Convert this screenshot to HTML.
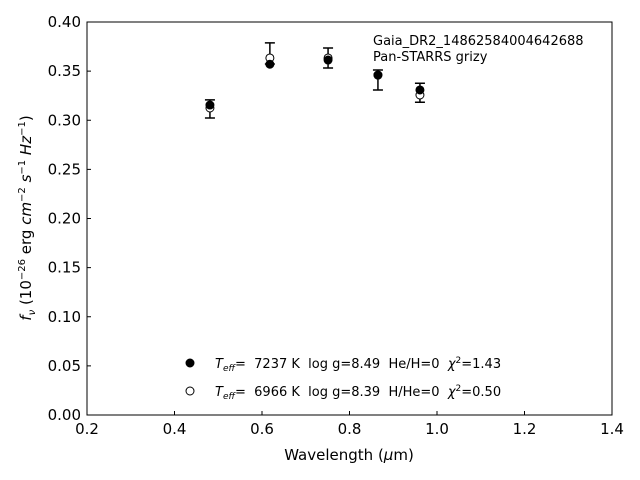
<!DOCTYPE html>
<html><head><meta charset="utf-8"><style>body{margin:0;background:#fff}svg{display:block;font-family:"DejaVu Sans","Liberation Sans",sans-serif}text{white-space:pre}</style></head>
<body>
<svg id="c" width="640" height="480" xmlns="http://www.w3.org/2000/svg"></svg>
<script>
const wavelengths=[0.481,0.618,0.751,0.865,0.961];
const obsFlux=[0.3115,0.368,0.3634,0.341,0.328];
const obsErr=[0.0092,0.0107,0.0102,0.0102,0.0097];
const model1=[0.3155,0.357,0.3613,0.346,0.3308];
const model2=[0.3125,0.3634,0.3634,0.346,0.3257];
const xTicks=[0.2,0.4,0.6,0.8,1.0,1.2,1.4];
const yTicks=[0.00,0.05,0.10,0.15,0.20,0.25,0.30,0.35,0.40];
const L=87,R=612,T=22,B=415;
const sx=v=>L+(v-0.2)/1.2*(R-L), sy=v=>B-v/0.4*(B-T);
const svg=document.getElementById('c');const NS='http://www.w3.org/2000/svg';
function mk(t,a,txt){const e=document.createElementNS(NS,t);for(const k in a)e.setAttribute(k,a[k]);if(txt!=null)e.textContent=txt;svg.appendChild(e);return e;}
let e=mk('rect',{x:L,y:T,width:R-L,height:B-T,fill:'none',stroke:'#000','stroke-width':1});

xTicks.forEach(v=>{const x=sx(v);let t=mk('line',{x1:x,x2:x,y1:B,y2:B-4,stroke:'#000'});
let l=mk('text',{x:x,y:B+19,'text-anchor':'middle','font-size':15},v.toFixed(1));});
yTicks.forEach(v=>{const y=sy(v);let t=mk('line',{x1:L,x2:L+4,y1:y,y2:y,stroke:'#000'});
let l=mk('text',{x:L-6,y:y+5,'text-anchor':'end','font-size':15},v.toFixed(2));});
wavelengths.forEach((w,i)=>{const x=sx(w),y1=sy(obsFlux[i]-obsErr[i]),y2=sy(obsFlux[i]+obsErr[i]);
let g=mk('path',{d:`M${x},${y1}V${y2}M${x-5},${y1}H${x+5}M${x-5},${y2}H${x+5}`,stroke:'#000','stroke-width':1.5,fill:'none'});});
wavelengths.forEach((w,i)=>{let c=mk('circle',{cx:sx(w),cy:sy(model2[i]),r:4,fill:'#fff',stroke:'#000'});});
wavelengths.forEach((w,i)=>{let c=mk('circle',{cx:sx(w),cy:sy(model1[i]),r:4,fill:'#000',stroke:'#000'});});
</script>
<svg style="position:absolute;left:0;top:0" width="640" height="480" xmlns="http://www.w3.org/2000/svg">
<text x="349" y="460" text-anchor="middle" font-size="15">Wavelength (<tspan font-style="italic">μ</tspan>m)</text>
<text transform="translate(31,218) rotate(-90)" text-anchor="middle" font-size="15"><tspan font-style="italic">f</tspan><tspan font-style="italic" font-size="10" dy="4">ν</tspan><tspan dy="-4"> (10</tspan><tspan font-size="10" dy="-6">−26</tspan><tspan dy="6"> erg </tspan><tspan font-style="italic">cm</tspan><tspan font-size="10" dy="-6">−2</tspan><tspan dy="6"> </tspan><tspan font-style="italic">s</tspan><tspan font-size="10" dy="-6">−1</tspan><tspan dy="6"> </tspan><tspan font-style="italic">Hz</tspan><tspan font-size="10" dy="-6">−1</tspan><tspan dy="6">)</tspan></text>
<text x="373" y="45" font-size="13">Gaia_DR2_14862584004642688</text>
<text x="373" y="61" font-size="13">Pan-STARRS grizy</text>
<g>
<circle cx="190" cy="363" r="4" fill="#000" stroke="#000"/>
<text x="215" y="368" font-size="13" xml:space="preserve"><tspan font-style="italic">T</tspan><tspan font-style="italic" font-size="9" dy="3">eff</tspan><tspan dy="-3">=  7237 K  log g=8.49  He/H=0  </tspan><tspan font-style="italic">χ</tspan><tspan font-size="9" dy="-5">2</tspan><tspan dy="5">=1.43</tspan></text>
<circle cx="190" cy="391" r="4" fill="#fff" stroke="#000"/>
<text x="215" y="396" font-size="13" xml:space="preserve"><tspan font-style="italic">T</tspan><tspan font-style="italic" font-size="9" dy="3">eff</tspan><tspan dy="-3">=  6966 K  log g=8.39  H/He=0  </tspan><tspan font-style="italic">χ</tspan><tspan font-size="9" dy="-5">2</tspan><tspan dy="5">=0.50</tspan></text>
</g>
</svg>
</body></html>
